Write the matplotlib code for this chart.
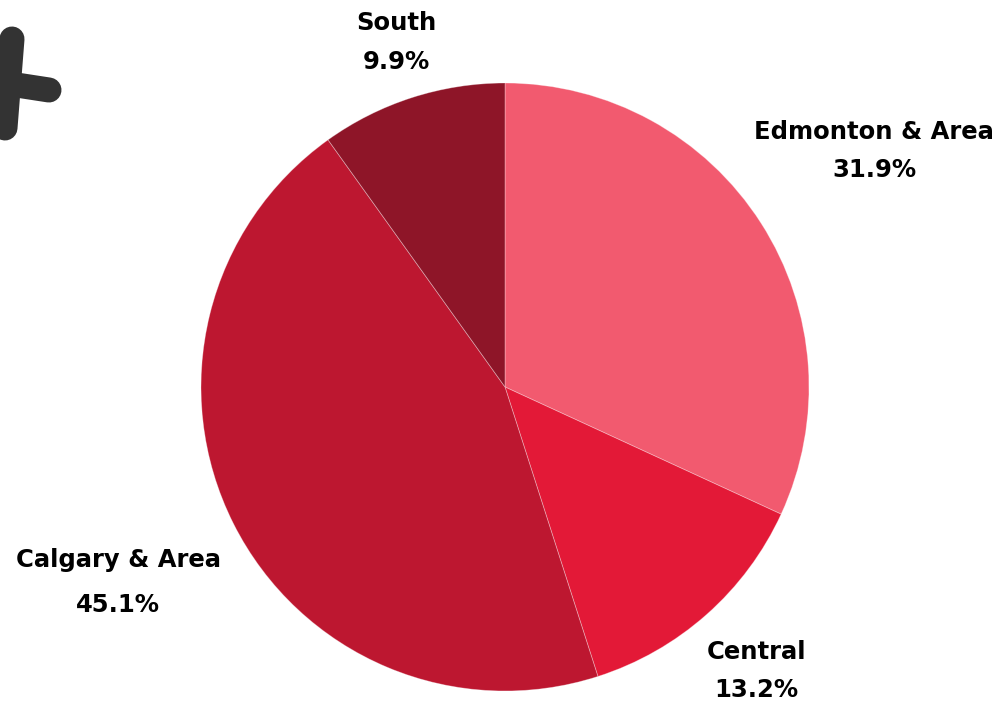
import matplotlib.pyplot as plt

regions = ['Edmonton & Area', 'Central', 'Calgary & Area', 'South']
shares = [31.9, 13.2, 45.1, 9.9]
colors = ['#F25A6F', '#E31937', '#BD1730', '#8E1528']

# label anchors: (x, name y, percent y) in pixels, y from top
label_pos = [(874, 132, 170), (756, 652, 690), (118, 560, 605), (396, 23, 62)]

W, H = 1001, 702
fig = plt.figure(figsize=(W / 100, H / 100), dpi=100)
ax = fig.add_axes([0, 0, 1, 1])

cx, cy, r = 505, H - 387, 304
ax.pie(shares, colors=colors, startangle=90, counterclock=False,
       center=(cx, cy), radius=r, frame=True,
       wedgeprops=dict(edgecolor=(1, 1, 1, 0.35), linewidth=0.6))
ax.set_xlim(0, W)
ax.set_ylim(0, H)
ax.set_aspect('equal')
ax.set_axis_off()

for name, val, (x, y1, y2) in zip(regions, shares, label_pos):
    style = dict(ha='center', va='center', fontsize=17.5, fontweight='bold',
                 family='DejaVu Sans', color='black')
    ax.text(x, H - y1, name, **style)
    ax.text(x, H - y2, '%.1f%%' % val, **style)

# decorative cross in the corner
kw = dict(color='#333333', linewidth=18, solid_capstyle='round')
ax.plot([12, 5], [H - 39, H - 128], **kw)
ax.plot([10, 49], [H - 84, H - 90], **kw)

fig.savefig('out.png', dpi=100)
